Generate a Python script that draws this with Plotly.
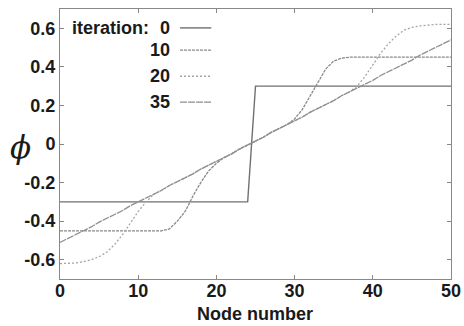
import plotly.graph_objects as go

nodes = list(range(51))

iter0 = [-0.3] * 25 + [0.3] * 26

iter10 = [-0.45, -0.45, -0.45, -0.45, -0.45, -0.45, -0.45, -0.45, -0.45, -0.45,
          -0.45, -0.45, -0.45, -0.45, -0.44, -0.40, -0.35, -0.27, -0.20, -0.14,
          -0.10, -0.07, -0.05, -0.025, -0.005, 0.015, 0.035, 0.06, 0.08, 0.10,
          0.13, 0.18, 0.25, 0.32, 0.39, 0.43, 0.445, 0.45, 0.45, 0.45,
          0.45, 0.45, 0.45, 0.45, 0.45, 0.45, 0.45, 0.45, 0.45, 0.45, 0.45]

iter20 = [-0.62, -0.62, -0.617, -0.61, -0.60, -0.585, -0.56, -0.52, -0.47, -0.41,
          -0.35, -0.30, -0.26, -0.24, -0.215, -0.195, -0.175, -0.155, -0.13, -0.11,
          -0.09, -0.07, -0.05, -0.025, -0.005, 0.015, 0.035, 0.06, 0.08, 0.10,
          0.12, 0.14, 0.165, 0.185, 0.205, 0.225, 0.25, 0.27, 0.30, 0.35,
          0.41, 0.47, 0.52, 0.56, 0.59, 0.605, 0.612, 0.617, 0.62, 0.62, 0.62]

iter35 = [-0.51, -0.49, -0.47, -0.45, -0.43, -0.405, -0.385, -0.365, -0.345, -0.32,
          -0.30, -0.28, -0.26, -0.24, -0.215, -0.195, -0.175, -0.155, -0.13, -0.11,
          -0.09, -0.07, -0.05, -0.025, -0.005, 0.015, 0.035, 0.06, 0.08, 0.10,
          0.12, 0.14, 0.165, 0.185, 0.205, 0.225, 0.25, 0.27, 0.29, 0.31,
          0.33, 0.355, 0.375, 0.395, 0.415, 0.435, 0.46, 0.48, 0.50, 0.52, 0.54]

legend_labels = ["0", "10", "20", "35"]
x_ticks = [0, 10, 20, 30, 40, 50]
y_ticks = [-0.6, -0.4, -0.2, 0, 0.2, 0.4, 0.6]
y_ticktext = ["-0.6", "-0.4", "-0.2", "0", "0.2", "0.4", "0.6"]

series = [iter0, iter10, iter20, iter35]
styles = [
    dict(color="#707070", width=1.4, dash="solid"),
    dict(color="#8a8a8a", width=1.3, dash="3px,1px"),
    dict(color="#a5a5a5", width=1.3, dash="2px,2px"),
    dict(color="#8f8f8f", width=1.3, dash="7px,1px"),
]

FONT = "Liberation Sans, Arial, sans-serif"

fig = go.Figure()
for ys, st, lab in zip(series, styles, legend_labels):
    fig.add_trace(go.Scatter(x=nodes, y=ys, mode="lines", line=st,
                             name=lab, showlegend=False, hoverinfo="skip"))

# custom legend (text left of the line sample)
fig.add_annotation(xref="paper", yref="paper", x=0.025, y=0.93,
                   text="<b>iteration:</b>", showarrow=False,
                   xanchor="left", yanchor="middle",
                   font=dict(family=FONT, size=18, color="#1a1a1a"))
row_y = [0.93, 0.848, 0.751, 0.655]
for lab, st, ry in zip(legend_labels, styles, row_y):
    fig.add_annotation(xref="paper", yref="paper", x=0.287, y=ry,
                       text="<b>" + lab + "</b>", showarrow=False,
                       xanchor="right", yanchor="middle",
                       font=dict(family=FONT, size=18, color="#1a1a1a"))
    fig.add_shape(type="line", xref="paper", yref="paper",
                  x0=0.307, x1=0.387, y0=ry, y1=ry, line=st)

fig.update_layout(
    width=464, height=326,
    margin=dict(l=60, r=3, t=9, b=47),
    paper_bgcolor="white", plot_bgcolor="white",
    font=dict(family=FONT, size=18, color="#1a1a1a"),
    xaxis=dict(range=[0, 50], tickvals=x_ticks, ticks="inside", ticklen=4,
               tickcolor="#888", showline=True, linecolor="#888", linewidth=1,
               mirror="ticks", showgrid=False, zeroline=False,
               ticklabeloverflow="allow", ticklabelstandoff=-5,
               tickfont=dict(family=FONT, size=18, weight="bold")),
    yaxis=dict(range=[-0.7, 0.7], tickvals=y_ticks, ticktext=y_ticktext,
               ticks="inside", ticklen=4, tickcolor="#888", showline=True,
               linecolor="#888", linewidth=1, mirror="ticks", showgrid=False,
               zeroline=False,
               tickfont=dict(family=FONT, size=18, weight="bold")),
)

fig.add_annotation(xref="paper", yref="paper", x=0.4988, y=-0.128,
                   text="<b>Node number</b>", showarrow=False,
                   xanchor="center", yanchor="middle",
                   font=dict(family=FONT, size=18, color="#1a1a1a"))

fig.add_annotation(xref="paper", yref="paper", x=-0.1, y=0.49,
                   text="<i>ϕ</i>", showarrow=False,
                   xanchor="center", yanchor="middle",
                   font=dict(family="DejaVu Serif, serif", size=31, color="#1a1a1a"))

fig.write_html("out.html", config={"displayModeBar": False},
               post_script="document.body.style.margin='0';")
